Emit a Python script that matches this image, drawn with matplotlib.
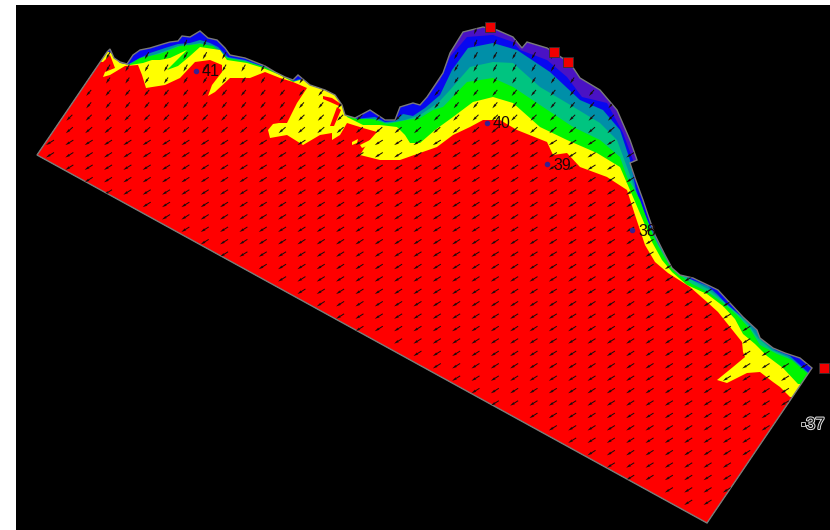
import numpy as np
import matplotlib
matplotlib.use("Agg")
import matplotlib.pyplot as plt
from matplotlib.patches import Polygon, Rectangle
from matplotlib.path import Path
import matplotlib.patheffects as pe

plt.rcParams['font.family'] = ['Liberation Sans', 'DejaVu Sans']

# Map is digitised in image coordinates (x right, y down)
coast = [(37,155),(107,52),(110,49),(114,58),(120,62),(127,64),(133,55),(140,50),(150,48),(163,44),(170,42),(178,41),
 (182,36),(190,37),(200,31),(208,38),(217,40),(225,48),(230,55),(245,58),(255,62),(265,66),(275,72),(285,77),(293,80),
 (298,75),(310,85),(325,90),(335,95),(342,105),(345,115),(355,118),(370,110),(385,120),(395,120),(400,107),(413,103),
 (420,105),(427,97),(443,73),(450,53),(463,32),(483,27),(497,30),(513,37),(522,48),(527,42),(547,48),(570,63),(580,78),
 (600,90),(617,110),(630,140),(637,160),(630,163),(635,178),(643,200),(648,215),(655,235),(665,255),(672,268),(680,275),
 (693,278),(718,290),(730,303),(743,317),(757,330),(760,338),(773,348),(785,353),(800,358),(812,368),(707,523)]

violet_inner = [(427,98),(440,80),(450,57),(467,37),(493,35),(513,42),(520,50),(547,60),(567,77),(582,97),(607,103),(623,133),(633,160),(640,175)]

teal_top = [(127,65),(138,59),(150,53),(165,48),(178,44),(190,43),(200,40),(210,43),(218,47),(228,57),(245,60),(262,66),(280,74),
 (293,81),(300,79),(312,87),(330,93),(340,101),(345,113),(355,119),(365,118),(375,117),(385,122),(395,121),(403,114),(413,116),(425,108),
 (440,95),(452,70),(468,48),(493,43),(517,50),(550,72),(580,100),(603,110),(620,130),(630,160),(636,190),
 (645,215),(655,236),(665,256),(675,271),(690,279),(708,286),(718,295),(730,308),(745,319),(757,331),(761,339),(775,350),(790,356),(800,365),(810,374)]
seagreen_top = [(127,65),(138,61),(150,56),(165,51),(178,46),(190,45),(200,43),(210,46),(218,50),(228,58),(245,61),(262,67),(280,75),
 (293,82),(300,80),(312,88),(330,94),(340,103),(345,114),(355,120),(365,120),(375,119),(385,123),(395,122),(405,120),(420,115),(438,103),
 (450,90),(470,67),(493,62),(513,63),(540,87),(567,103),(600,123),(617,140),(627,167),(636,192),
 (648,224),(658,244),(668,261),(678,272),(695,282),(708,289),(722,300),(736,312),(748,324),(758,338),(772,350),(788,357),(800,367),(810,376)]
green_top = [(127,66),(140,58),(160,54),(180,46),(200,44),(213,46),(227,58),(247,62),(267,68),(287,78),(295,82),(307,81),(320,87),
 (337,94),(343,110),(357,119),(373,119),(387,124),(397,122),(407,120),(420,118),(433,110),(443,107),(467,82),(493,78),(513,87),(543,107),(573,127),
 (600,140),(620,157),(627,177),(640,200),(650,228),(658,246),(668,263),(678,274),(692,284),(708,292),(723,303),(738,316),(750,329),(760,345),(777,354),(792,360),(807,373)]
yellow_top = [(110,52),(120,63),(130,65),(143,63),(152,60),(160,60),(170,58),(187,50),(175,62),(167,70),(178,66),(190,56),(200,47),(220,50),(227,60),(247,63),
 (263,68),(280,75),(293,82),(307,78),(320,88),(333,93),(343,103),(347,117),(363,125),(380,125),(397,127),(405,135),(410,143),(420,143),(435,130),(453,117),
 (473,102),(493,97),(513,103),(540,127),(567,140),(597,153),(620,167),(633,197),(642,218),(652,242),(662,260),(672,272),(687,285),(707,294),(723,306),
 (735,319),(743,334),(755,344),(767,356),(783,368),(798,384)]
red_top = [(103,62),(110,55),(115,68),(105,72),(103,77),(110,75),(125,66),(138,65),(142,75),(146,88),(165,85),(180,78),(195,62),(210,60),(222,65),(222,72),
 (212,85),(208,96),(215,92),(230,78),(250,78),(265,72),(280,78),(293,82),(307,88),(297,103),(287,123),(273,123),(275,115),(283,108),(287,115),(285,122),(273,124),
 (268,130),(270,138),(287,135),(303,145),(320,135),(332,133),(332,140),(340,135),(347,123),(363,128),(377,132),(368,142),(360,155),(380,160),(400,160),(437,147),
 (453,135),(470,127),(483,120),(500,120),(517,130),(547,142),(553,155),(567,153),(580,167),(607,177),(627,190),(635,215),(645,245),(655,262),(668,273),(690,287),
 (707,302),(718,312),(730,327),(742,342),(743,352),(745,357),(733,367),(717,380),(727,383),(747,373),(760,372),(773,382),(780,387),(790,397)]
red_streak_a = [(323,96),(332,98),(341,104),(339,106),(330,102),(323,99)]
red_streak_b = [(337,107),(341,110),(334,126),(330,126)]
yellow_spot_a = [(352,142),(358,139),(357,143),(352,145)]
yellow_spot_b = [(360,145),(370,140),(369,145),(362,148)]

# Wind arrows: one direction per grid row, top to bottom (image pixels)
row_u = [3,3,4,4,4,5,5,6,7,8,8,8,8,8,8,8,8,8,8,8,8,8,8,8,8,8,8,8,8,8,8,8,8,8,8,8,8,8,8]
row_v = [7,7,7,7,6,6,6,6,6,5,5,5,5,5,5,5,5,5,5,5,5,5,5,5,5,5,5,5,5,5,5,5,5,5,5,5,5,5,5]
col_x = 50 + 19.34*np.arange(-1, 40)
row_y = 155 + 12.41*np.arange(-10, 29)

# Section labels: name, dot x, dot y, text x
stations = ["41", "40", "39", "38"]
station_x = [196, 487, 547, 632]
station_y = [71, 123, 164, 230]
sq_x = [490, 554, 568, 824]
sq_y = [27, 52, 62, 368]

fig = plt.figure(figsize=(8.3, 5.3), dpi=100, facecolor='white')
ax = fig.add_axes([0, 0, 1, 1])
ax.set_xlim(0, 830); ax.set_ylim(530, 0); ax.axis('off')
ax.add_patch(Rectangle((16, 5), 814, 525, fc='black', ec='none', zorder=0))

domain = Polygon(coast, closed=True, fc='#0808f0', ec='none', zorder=1)
ax.add_patch(domain)

def layer(line, color, z):
    pts = [(0, line[0][1]-5)] + list(line) + [(830, line[-1][1]), (830, 530), (0, 530)]
    p = Polygon(pts, closed=True, fc=color, ec='none', zorder=z)
    ax.add_patch(p); p.set_clip_path(domain)

vp = Polygon(violet_inner + [(660,175),(660,100),(520,0),(420,0)], closed=True, fc='#4a12c4', ec='none', zorder=2)
ax.add_patch(vp); vp.set_clip_path(domain)
layer(teal_top, '#008fa8', 3)
layer(seagreen_top, '#00c480', 4)
layer(green_top, '#00f400', 5)
layer(yellow_top, '#ffff00', 6)
layer(red_top, '#ff0000', 7)
for s in (red_streak_a, red_streak_b):
    p = Polygon(s, closed=True, fc='#ff0000', ec='none', zorder=8); ax.add_patch(p)
for s in (yellow_spot_a, yellow_spot_b):
    p = Polygon(s, closed=True, fc='#ffff00', ec='none', zorder=8); ax.add_patch(p)

# coast outline
ax.add_patch(Polygon(coast, closed=True, fc='none', ec='#7a7a7a', lw=1.0, zorder=9))

X, Y = np.meshgrid(col_x, row_y)
U = np.tile(-np.array(row_u, float)[:, None], (1, len(col_x)))
V = np.tile(np.array(row_v, float)[:, None], (1, len(col_x)))
inside = Path(coast).contains_points(np.c_[X.ravel(), Y.ravel()], radius=-3).reshape(X.shape)
q = ax.quiver(X[inside], Y[inside], U[inside], V[inside], angles='xy', scale_units='xy', scale=1,
              pivot='mid', units='dots', width=1.0, headwidth=2.6, headlength=5, headaxislength=4.5,
              color='#1a0c0c', zorder=10)
q.set_clip_path(domain)

for name, x, y in zip(stations, station_x, station_y):
    ax.plot([x], [y], 'o', ms=3, mfc='#3a2090', mec='#3a2090', zorder=11)
    ax.text(x+6, y+1, name, fontsize=11.5, color='#1a0808', va='center', ha='left', zorder=11)
ax.plot([803], [424], 's', ms=3, mfc='black', mec='#dddddd', mew=0.6, zorder=11)
ax.text(806, 424.5, "37", fontsize=12, color='#111111', va='center', ha='left', zorder=11,
        path_effects=[pe.withStroke(linewidth=1.4, foreground='#e8e8e8')])

ax.plot(sq_x, sq_y, 's', ms=7.5, mfc='#f00000', mec='#333333', mew=0.6, ls='none', zorder=12, clip_on=True)

fig.savefig('out.png', dpi=100, facecolor='white')
